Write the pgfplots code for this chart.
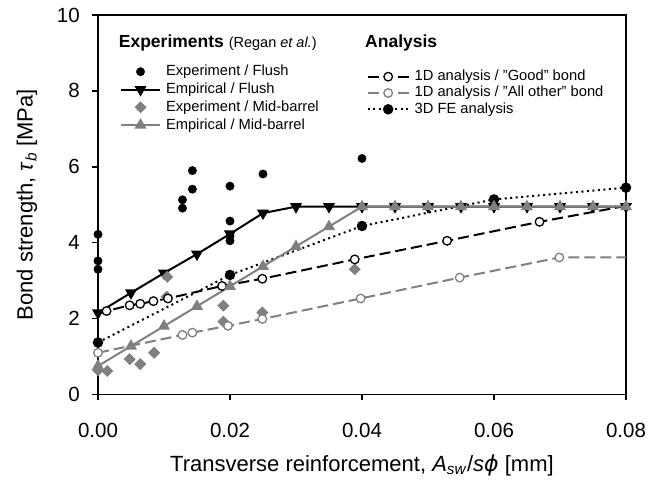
\documentclass[border=0pt]{standalone}
\usepackage{pgfplots}
\pgfplotsset{compat=1.18}
\usepackage{fontspec}
\setmainfont{Liberation Sans}
\newfontfamily\djv{DejaVu Sans}
\definecolor{mgray}{RGB}{128,128,128}
\newcommand{\dq}{\char34\relax}
\pgfplotsset{
 leg/.style={legend image code/.code={\draw[mark repeat=2,mark phase=2,##1] plot coordinates {(0pt,0pt) (19.5pt,0pt) (39pt,0pt)};}},
 legB/.style={legend image code/.code={\draw[mark repeat=2,mark phase=2,##1] plot coordinates {(0pt,0pt) (20.5pt,0pt) (41pt,0pt)};}},
}
\begin{document}
\begin{tikzpicture}[x=1pt,y=1pt]
\useasboundingbox (0,0) rectangle (649,481);
\begin{axis}[
  at={(98pt,86.5pt)}, anchor=south west,
  width=528pt, height=379.5pt, scale only axis,
  xmin=0, xmax=0.08, ymin=0, ymax=10,
  xtick={0,0.02,0.04,0.06,0.08},
  xticklabels={0.00,0.02,0.04,0.06,0.08},
  ytick={0,2,4,6,8,10},
  scaled x ticks=false,
  tick align=outside, tick pos=left,
  major tick length=6pt,
  tick style={black, line width=1.5pt},
  axis line style={line width=1.8pt},
  /pgf/number format/assume math mode=true,
  every tick label/.append style={font=\fontsize{20.5}{24}\selectfont},
  xticklabel style={anchor=center, inner sep=0pt, yshift=-30pt},
  yticklabel style={anchor=east, inner sep=0pt, xshift=-12pt},
  xlabel={Transverse reinforcement, \textit{A}\textsubscript{\textit{sw}}/\textit{s}{\djv\itshape ϕ} [mm]},
  ylabel={Bond strength, \textit{τ}\textsubscript{\textit{b}} [MPa]},
  label style={font=\fontsize{22}{26}\selectfont},
  xlabel style={at={(axis description cs:0.5,-0.1858)}, anchor=center},
  ylabel style={at={(axis description cs:-0.1345,0.5)}, anchor=center},
  clip=false,
  legend cell align=left,
  legend style={at={(0.0417,0.869)}, anchor=north west, draw=none, fill=none,
    inner sep=0pt, outer sep=0pt, row sep=3.8pt, column sep=5pt,
    font=\fontsize{14.7}{17}\selectfont,
    nodes={inner sep=0pt, text height=11pt, text depth=3pt}},
]
\addplot[only marks, black, mark=*, mark size=4.2pt, leg] coordinates {
(0,4.22) (0,3.52) (0,3.30) (0.0128,5.13) (0.0128,4.91) (0.0143,5.90) (0.0143,5.41)
(0.02,5.49) (0.02,4.57) (0.02,4.18) (0.02,4.05) (0.025,5.81) (0.04,6.22)};
\addlegendentry{Experiment / Flush}
\addplot[black, line width=2pt, mark=triangle*, mark size=5pt, mark options={rotate=180}, leg] coordinates {
(0,2.15) (0.005,2.68) (0.01,3.20) (0.015,3.70) (0.02,4.23) (0.025,4.78) (0.03,4.95) (0.035,4.95)
(0.04,4.95) (0.045,4.95) (0.05,4.95) (0.055,4.95) (0.06,4.95) (0.065,4.95) (0.07,4.95) (0.075,4.95) (0.08,4.95)};
\addlegendentry{Empirical / Flush}
\addplot[only marks, mgray, mark=square*, mark size=4pt, mark options={rotate=45}, leg] coordinates {
(0,0.64) (0.0014,0.62) (0.0048,0.93) (0.0064,0.80) (0.0085,1.10) (0.0105,3.10) (0.0104,2.58)
(0.019,2.34) (0.019,1.92) (0.0249,2.16) (0.0389,3.30)};
\addlegendentry{Experiment / Mid-barrel}
\addplot[black, line width=2pt, dash pattern=on 11pt off 5pt, mark=*, mark size=4.3pt,
  mark options={solid, fill=white, draw=black, line width=1.3pt}, mark indices={2,3,4,5,6,7,8,9,10,11}, forget plot] coordinates {
(0,2.12) (0.0013,2.20) (0.0048,2.35) (0.0064,2.39) (0.0084,2.46) (0.0106,2.53) (0.0188,2.86)
(0.0249,3.05) (0.0389,3.56) (0.0529,4.05) (0.0669,4.55) (0.08,4.97)};
\addplot[mgray, line width=2pt, dash pattern=on 11pt off 5pt, mark=*, mark size=4.3pt,
  mark options={solid, fill=white, draw=mgray, line width=1.3pt}, mark indices={1,2,3,4,5,6,7,8}, forget plot] coordinates {
(0,1.10) (0.0128,1.57) (0.0143,1.63) (0.0197,1.81) (0.0249,1.99) (0.0398,2.53) (0.0548,3.08) (0.0699,3.61) (0.08,3.61)};
\addplot[black, line width=2pt, dash pattern=on 2pt off 3.5pt, mark=*, mark size=4.2pt, mark options={solid}, forget plot] coordinates {
(0,1.37) (0.02,3.15) (0.04,4.44) (0.06,5.14) (0.08,5.45)};
\addplot[mgray, line width=2pt, mark=triangle*, mark size=5pt, leg] coordinates {
(0,0.75) (0.005,1.275) (0.01,1.80) (0.015,2.325) (0.02,2.85) (0.025,3.375) (0.03,3.90) (0.035,4.425)
(0.04,4.95) (0.045,4.95) (0.05,4.95) (0.055,4.95) (0.06,4.95) (0.065,4.95) (0.07,4.95) (0.075,4.95) (0.08,4.95)};
\addlegendentry{Empirical / Mid-barrel}
\node[anchor=west, inner sep=0pt] at (rel axis cs:0.0392,0.926)
  {\fontsize{17.5}{20}\selectfont\bfseries Experiments \fontsize{14.5}{17}\selectfont\mdseries(Regan \textit{et al.})};
\node[anchor=west, inner sep=0pt] at (rel axis cs:0.5057,0.926)
  {\fontsize{17.5}{20}\selectfont\bfseries Analysis};
\end{axis}
\begin{axis}[
  at={(98pt,86.5pt)}, anchor=south west,
  width=528pt, height=379.5pt, scale only axis,
  xmin=0, xmax=0.08, ymin=0, ymax=10,
  hide axis,
  legend cell align=left,
  legend style={at={(0.5089,0.8559)}, anchor=north west, draw=none, fill=none,
    inner sep=0pt, outer sep=0pt, row sep=2.3pt, column sep=5pt,
    font=\fontsize{14.7}{17}\selectfont,
    nodes={inner sep=0pt, text height=11pt, text depth=3pt}},
]
\addlegendimage{legB, black, line width=2pt, dash pattern=on 11pt off 5pt on 9pt off 5pt, mark=*, mark size=4.3pt, mark options={solid, fill=white, draw=black, line width=1.3pt}}
\addlegendentry{1D analysis / \dq Good\dq\ bond}
\addlegendimage{legB, mgray, line width=2pt, dash pattern=on 11pt off 5pt on 9pt off 5pt, mark=*, mark size=4.3pt, mark options={solid, fill=white, draw=mgray, line width=1.3pt}}
\addlegendentry{1D analysis / \dq All other\dq\ bond}
\addlegendimage{legB, black, line width=2pt, dash pattern=on 2pt off 3.5pt, mark=*, mark size=4.2pt, mark options={solid}}
\addlegendentry{3D FE analysis}
\end{axis}
\end{tikzpicture}
\end{document}
